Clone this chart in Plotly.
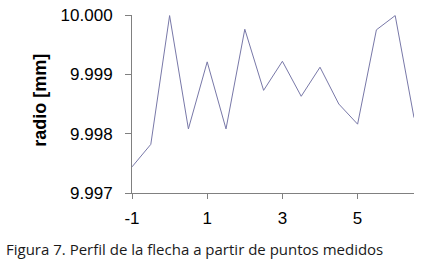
import plotly.graph_objects as go

x_vals = [-1, -0.5, 0, 0.5, 1, 1.5, 2, 2.5, 3, 3.5, 4, 4.5, 5, 5.5, 6, 6.5]
radio = [9.99744, 9.99782, 9.99999, 9.99808, 9.99921, 9.99808, 9.99976, 9.99873,
         9.99922, 9.99863, 9.99912, 9.99850, 9.99816, 9.99975, 9.99999, 9.99827]
x_ticks = [-1, 1, 3, 5]
x_ticktext = ["-1", "1", "3", "5"]
y_ticks = [9.997, 9.998, 9.999, 10.000]
y_ticktext = ["9.997", "9.998", "9.999", "10.000"]

fig = go.Figure()
fig.add_trace(go.Scatter(x=x_vals, y=radio, mode="lines",
                         line=dict(color="#7878a8", width=1)))

tickfont = dict(family="Liberation Sans, Arial", size=17, color="#000000")
fig.update_layout(
    width=421, height=264,
    margin=dict(l=132, r=7, t=15, b=71),
    paper_bgcolor="white", plot_bgcolor="white",
    showlegend=False,
    xaxis=dict(range=[-1, 6.5], tickvals=x_ticks, ticktext=x_ticktext,
               showgrid=False, zeroline=False, showline=True, linecolor="#808080",
               linewidth=1, ticks="outside", ticklen=5, tickcolor="#808080",
               ticklabelstandoff=5,
               tickfont=tickfont, fixedrange=True),
    yaxis=dict(range=[9.997, 10.000], tickvals=y_ticks, ticktext=y_ticktext,
               showgrid=False, zeroline=False, showline=True, linecolor="#808080",
               linewidth=1, ticks="outside", ticklen=6, tickcolor="#808080",
               ticklabelstandoff=9,
               tickfont=tickfont, fixedrange=True),
    annotations=[
        dict(text="<b>radio [mm]</b>", xref="paper", yref="paper",
             x=(40.5 - 132) / 282, y=(192.7 - 100) / 177.7,
             xanchor="center", yanchor="middle", textangle=-90, showarrow=False,
             font=dict(family="Liberation Sans, Arial", size=18, color="#000000")),
        dict(text="Figura 7. Perfil de la flecha a partir de puntos medidos",
             xref="paper", yref="paper",
             x=(4 - 132) / 282, y=(192.7 - 249) / 177.7,
             xanchor="left", yanchor="middle", showarrow=False,
             font=dict(family="Open Sans", size=15, color="#1a1a1a")),
    ],
)
fig.write_html("out.html", config={"displayModeBar": False},
               post_script="document.body.style.margin='0';document.body.style.overflow='hidden';")
